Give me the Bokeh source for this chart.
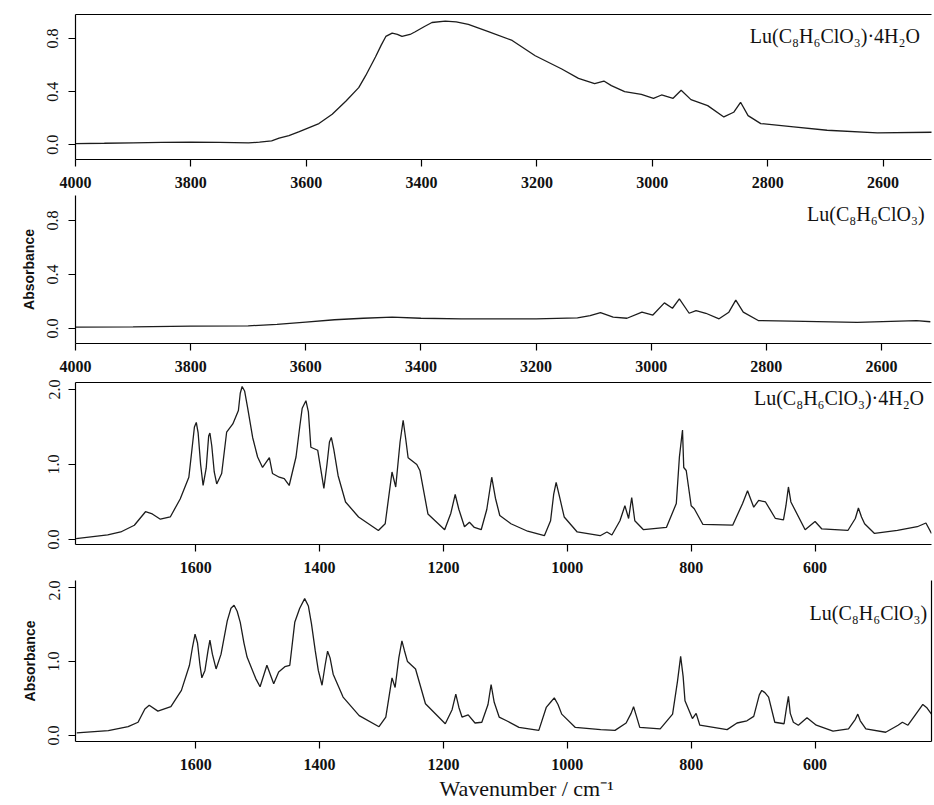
from bokeh.plotting import figure
from bokeh.layouts import column
from bokeh.models import FixedTicker, LinearAxis, Range1d, Label, PrintfTickFormatter, Title
from bokeh.embed import file_html
from bokeh.resources import INLINE

# ---------------- data ----------------
mir_ticks = [4000, 3800, 3600, 3400, 3200, 3000, 2800, 2600]
fir_ticks = [1600, 1400, 1200, 1000, 800, 600]
mir_yticks = [0.0, 0.4, 0.8]
fir_yticks = [0.0, 1.0, 2.0]

label_hydrate = "Lu(C₈H₆ClO₃)·4H₂O"
label_anhydrous = "Lu(C₈H₆ClO₃)"
y_title = "Absorbance"
x_title = "Wavenumber / cm⁻¹"

# panel 1: hydrate, 4000-2500 cm-1
p1_wn = [4000, 3950, 3900, 3850, 3800, 3750, 3700, 3681, 3660, 3647, 3630, 3612,
         3595, 3578, 3555, 3531, 3509, 3497, 3480, 3470, 3462, 3451, 3442, 3434,
         3420, 3411, 3395, 3382, 3359, 3340, 3319, 3283, 3243, 3203, 3157, 3128,
         3100, 3084, 3071, 3048, 3019, 2998, 2984, 2964, 2950, 2933, 2904, 2876,
         2859, 2847, 2834, 2812, 2755, 2697, 2610, 2515]
p1_abs = [0.01, 0.012, 0.015, 0.018, 0.02, 0.018, 0.015, 0.02, 0.03, 0.05, 0.07, 0.10,
          0.13, 0.16, 0.23, 0.33, 0.43, 0.52, 0.66, 0.75, 0.815, 0.84, 0.83, 0.815,
          0.83, 0.85, 0.89, 0.92, 0.93, 0.925, 0.905, 0.85, 0.785, 0.67, 0.57, 0.50,
          0.46, 0.48, 0.445, 0.40, 0.38, 0.35, 0.375, 0.35, 0.41, 0.34, 0.295, 0.21,
          0.245, 0.32, 0.22, 0.16, 0.135, 0.11, 0.09, 0.095]

# panel 2: anhydrous, 4000-2500 cm-1
p2_wn = [4000, 3900, 3800, 3700, 3650, 3600, 3550, 3500, 3450, 3400, 3330, 3200,
         3128, 3106, 3088, 3066, 3042, 3016, 2997, 2977, 2963, 2951, 2934, 2922,
         2905, 2882, 2865, 2853, 2840, 2814, 2757, 2642, 2539, 2515]
p2_abs = [0.01, 0.012, 0.017, 0.02, 0.03, 0.047, 0.065, 0.076, 0.084, 0.076, 0.072, 0.072,
          0.079, 0.096, 0.118, 0.084, 0.076, 0.121, 0.10, 0.19, 0.15, 0.22, 0.113, 0.133,
          0.113, 0.072, 0.121, 0.21, 0.121, 0.059, 0.055, 0.045, 0.059, 0.05]

# panel 3: hydrate, 1800-400 cm-1
p3_wn = [1793, 1742, 1721, 1699, 1681, 1670, 1657, 1641, 1625, 1611, 1606, 1602,
         1599, 1596, 1592, 1588, 1583, 1579, 1577, 1574, 1570, 1566, 1558, 1550,
         1540, 1531, 1528, 1525, 1521, 1516, 1508, 1500, 1492, 1481, 1476, 1465,
         1457, 1449, 1438, 1432, 1428, 1422, 1418, 1414, 1403, 1393, 1388, 1384,
         1381, 1377, 1370, 1358, 1337, 1305, 1294, 1283, 1277, 1270, 1265, 1261,
         1257, 1243, 1238, 1225, 1198, 1188, 1181, 1175, 1166, 1158, 1150, 1139,
         1130, 1122, 1116, 1109, 1091, 1064, 1037, 1027, 1022, 1018, 1012, 1005,
         984, 947, 936, 928, 915, 907, 901, 896, 891, 877, 840, 824,
         819, 814, 812, 808, 800, 795, 781, 733, 717, 709, 699, 691,
         680, 664, 651, 647, 643, 639, 616, 600, 589, 547, 535, 530,
         525, 520, 504, 467, 435, 421, 412]
p3_abs = [0.01, 0.06, 0.10, 0.19, 0.37, 0.34, 0.27, 0.30, 0.54, 0.83, 1.20, 1.50,
          1.56, 1.42, 1.00, 0.72, 0.95, 1.38, 1.42, 1.25, 0.90, 0.74, 0.88, 1.43,
          1.54, 1.72, 1.95, 2.04, 1.98, 1.75, 1.36, 1.10, 0.96, 1.09, 0.88, 0.83,
          0.81, 0.72, 1.10, 1.50, 1.75, 1.85, 1.70, 1.23, 1.19, 0.68, 1.00, 1.30,
          1.36, 1.20, 0.85, 0.50, 0.30, 0.12, 0.21, 0.90, 0.70, 1.30, 1.59, 1.35,
          1.09, 1.00, 0.92, 0.34, 0.13, 0.35, 0.60, 0.40, 0.17, 0.23, 0.16, 0.13,
          0.40, 0.83, 0.55, 0.32, 0.21, 0.11, 0.05, 0.25, 0.60, 0.76, 0.55, 0.30,
          0.10, 0.05, 0.10, 0.06, 0.25, 0.45, 0.28, 0.56, 0.25, 0.13, 0.16, 0.48,
          1.10, 1.46, 0.96, 0.92, 0.45, 0.41, 0.20, 0.19, 0.48, 0.65, 0.43, 0.52,
          0.50, 0.28, 0.26, 0.45, 0.70, 0.50, 0.13, 0.24, 0.14, 0.12, 0.28, 0.42,
          0.30, 0.21, 0.08, 0.12, 0.17, 0.22, 0.08]

# panel 4: anhydrous, 1800-400 cm-1
p4_wn = [1792, 1741, 1709, 1693, 1682, 1675, 1661, 1640, 1623, 1610, 1605, 1601,
         1597, 1593, 1590, 1585, 1580, 1577, 1573, 1567, 1559, 1549, 1543, 1538,
         1533, 1528, 1522, 1517, 1503, 1496, 1485, 1474, 1466, 1456, 1448, 1440,
         1432, 1424, 1418, 1413, 1407, 1402, 1396, 1391, 1387, 1383, 1378, 1362,
         1336, 1304, 1293, 1283, 1278, 1272, 1267, 1263, 1258, 1245, 1229, 1197,
         1186, 1180, 1175, 1170, 1160, 1149, 1138, 1128, 1123, 1118, 1110, 1098,
         1078, 1046, 1034, 1027, 1021, 1015, 1009, 987, 946, 923, 905, 897,
         893, 889, 883, 850, 830, 822, 817, 813, 810, 798, 792, 786,
         742, 726, 710, 699, 690, 686, 681, 675, 665, 650, 646, 643,
         640, 635, 627, 613, 598, 571, 546, 535, 531, 527, 518, 486,
         466, 459, 450, 432, 426, 420, 412]
p4_abs = [0.036, 0.068, 0.12, 0.18, 0.36, 0.41, 0.33, 0.39, 0.61, 0.95, 1.20, 1.37,
          1.25, 0.95, 0.78, 0.88, 1.15, 1.29, 1.10, 0.90, 1.10, 1.55, 1.72, 1.76,
          1.68, 1.53, 1.25, 1.06, 0.77, 0.66, 0.95, 0.70, 0.86, 0.93, 0.95, 1.53,
          1.72, 1.85, 1.75, 1.51, 1.15, 0.88, 0.68, 0.95, 1.14, 1.05, 0.83, 0.52,
          0.27, 0.12, 0.25, 0.78, 0.65, 1.05, 1.28, 1.15, 1.00, 0.90, 0.43, 0.16,
          0.35, 0.56, 0.38, 0.25, 0.28, 0.17, 0.18, 0.42, 0.69, 0.45, 0.25, 0.20,
          0.11, 0.07, 0.38, 0.45, 0.51, 0.42, 0.29, 0.11, 0.08, 0.07, 0.17, 0.30,
          0.39, 0.28, 0.11, 0.09, 0.29, 0.74, 1.07, 0.80, 0.47, 0.23, 0.30, 0.14,
          0.08, 0.17, 0.20, 0.26, 0.55, 0.61, 0.58, 0.52, 0.18, 0.16, 0.38, 0.53,
          0.30, 0.18, 0.14, 0.24, 0.14, 0.06, 0.09, 0.22, 0.29, 0.20, 0.09, 0.045,
          0.14, 0.18, 0.14, 0.35, 0.42, 0.38, 0.29]

# ---------------- styling helpers ----------------
SERIF = "Liberation Serif"
SANS = "Liberation Sans"
LINE = "#1c1c1c"


def make_panel(height, top, bottom, left, right, xr, yr, xticks, yticks,
               ylab_standoff, with_ytitle):
    p = figure(width=934, height=height, x_range=Range1d(*xr), y_range=Range1d(*yr),
               output_backend="svg", toolbar_location=None,
               min_border_top=top, min_border_bottom=bottom,
               min_border_left=left, min_border_right=right)
    p.outline_line_color = None
    p.grid.visible = False
    p.background_fill_color = "white"
    p.border_fill_color = "white"

    xa = p.xaxis[0]
    xa.ticker = FixedTicker(ticks=xticks)
    xa.major_tick_out = 7
    xa.major_tick_in = 0
    xa.minor_tick_out = 0
    xa.minor_tick_in = 0
    xa.major_label_standoff = 10
    xa.major_label_text_font = SERIF
    xa.major_label_text_font_style = "bold"
    xa.major_label_text_font_size = "16px"
    xa.major_label_text_color = "#111111"
    xa.axis_line_color = "black"
    xa.axis_line_width = 1.2
    xa.major_tick_line_width = 1.2

    ya = p.yaxis[0]
    ya.ticker = FixedTicker(ticks=yticks)
    ya.formatter = PrintfTickFormatter(format="%.1f")
    ya.major_tick_out = 7
    ya.major_tick_in = 0
    ya.minor_tick_out = 0
    ya.minor_tick_in = 0
    ya.major_label_orientation = "vertical"
    ya.major_label_standoff = ylab_standoff
    ya.major_label_text_font = SERIF
    ya.major_label_text_font_size = "16px"
    ya.major_label_text_color = "#111111"
    ya.axis_line_color = "black"
    ya.axis_line_width = 1.2
    ya.major_tick_line_width = 1.2
    if with_ytitle:
        ya.axis_label = y_title
        ya.axis_label_text_font = SANS
        ya.axis_label_text_font_style = "bold"
        ya.axis_label_text_font_size = "14px"
        ya.axis_label_text_color = "#111111"
        ya.axis_label_standoff = 8
    return p


def border_axis(p, side):
    ax = LinearAxis(ticker=FixedTicker(ticks=[]), major_tick_out=0, major_tick_in=0,
                    minor_tick_out=0, minor_tick_in=0, major_label_standoff=0,
                    major_label_text_font_size="0px", axis_line_color="black",
                    axis_line_width=1.2)
    p.add_layout(ax, side)


def panel_label(p, x, y, text):
    p.add_layout(Label(x=x, y=y, text=text, text_align="right",
                       text_baseline="middle", text_font=SERIF, text_font_size="20px",
                       text_color="#111111"))


# panel 1
p1 = make_panel(195, 14, 36, 75, 0, (4000, 2516), (-0.11, 0.98), mir_ticks, mir_yticks, 10, False)
border_axis(p1, "above")
p1.line(p1_wn, p1_abs, line_color=LINE, line_width=1.3)
panel_label(p1, 2536, 0.82, label_hydrate)

# panel 2
p2 = make_panel(184, 0, 36, 73, 0, (4000, 2513), (-0.111, 0.985), mir_ticks, mir_yticks, 10, True)
p2.line(p2_wn, p2_abs, line_color=LINE, line_width=1.3)
panel_label(p2, 2525, 0.85, label_anhydrous)

# panel 3
p3 = make_panel(201, 3, 36, 68, 2, (1794, 412), (-0.067, 2.093), fir_ticks, fir_yticks, 9, False)
border_axis(p3, "above")
p3.line(p3_wn, p3_abs, line_color=LINE, line_width=1.3)
panel_label(p3, 424, 1.88, label_hydrate)

# panel 4
p4 = make_panel(225, 0, 64, 67, 3, (1794, 412), (-0.08, 2.095), fir_ticks, fir_yticks, 9, True)
border_axis(p4, "right")
p4.line(p4_wn, p4_abs, line_color=LINE, line_width=1.3)
panel_label(p4, 419, 1.66, label_anhydrous)
p4.add_layout(Title(text=x_title, align="left", offset=364, standoff=2,
                    text_font=SERIF, text_font_size="22px", text_font_style="normal",
                    text_color="#111111"), "below")

layout = column(p1, p2, p3, p4, spacing=0)
open("out.html", "w").write(file_html(layout, INLINE))
